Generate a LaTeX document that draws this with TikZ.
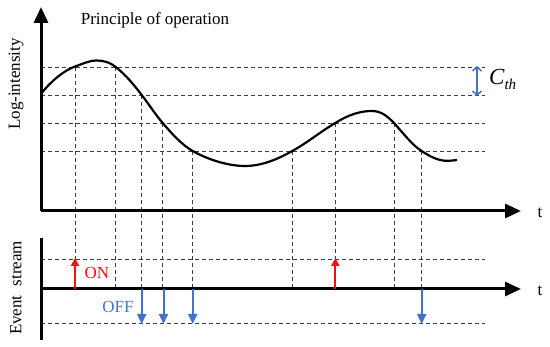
\documentclass[tikz,border=0pt]{standalone}
\usepackage{fontspec}
\setmainfont{Liberation Serif}
\usetikzlibrary{arrows.meta}
\definecolor{onred}{RGB}{235,20,20}
\definecolor{offblue}{RGB}{68,114,196}
\definecolor{guidegray}{RGB}{60,60,60}
\begin{document}
\begin{tikzpicture}[x=1pt,y=-1pt,
  axis/.style={line width=3pt,-{Triangle[length=16pt,width=14pt]}},
  vaxis/.style={line width=3pt},
  guide/.style={line width=0.8pt,dash pattern=on 4pt off 3pt,guidegray},
  curve/.style={line width=2.2pt,line join=round},
  onarrow/.style={onred,line width=2pt,-{Triangle[length=8pt,width=8pt]}},
  offarrow/.style={offblue,line width=2pt,-{Triangle[length=10pt,width=9pt]}},
  lbl/.style={font=\fontsize{17}{20}\selectfont,inner sep=0pt}
]
\useasboundingbox (0,0) rectangle (550,347);

% guide levels (top panel)
\foreach \y in {67,95,123,151} \draw[guide] (41,\y) -- (485,\y);

% guide levels (bottom panel)
\foreach \y in {259,323} \draw[guide] (41,\y) -- (485,\y);

% vertical guides
\draw[guide] (75,67) -- (75,260);
\draw[guide] (115.7,67) -- (115.7,289);
\draw[guide] (141.7,95) -- (141.7,289);
\draw[guide] (162.7,123) -- (162.7,289);
\draw[guide] (192.7,151) -- (192.7,289);
\draw[guide] (292.3,151) -- (292.3,289);
\draw[guide] (335.3,123) -- (335.3,260);
\draw[guide] (394,123) -- (394,289);
\draw[guide] (421.7,151) -- (421.7,289);

% curve
\draw[curve] (41,94)
  .. controls (50,82) and (64,70.35) .. (75,66.5)
  .. controls (85,63) and (90,60.5) .. (96,60.5)
  .. controls (102,60.5) and (108.7,61.5) .. (115.7,67)
  .. controls (126,75) and (134,85) .. (141.7,95)
  .. controls (149.4,105) and (155,114) .. (162.7,123)
  .. controls (172,133.9) and (182,145) .. (192.7,151)
  .. controls (208,159.6) and (228,166) .. (245,166)
  .. controls (262,166) and (278,159) .. (292.3,151)
  .. controls (307,143) and (320,132) .. (335.3,123)
  .. controls (348,115) and (360,111) .. (371.7,111)
  .. controls (382,111) and (388,117) .. (394,123)
  .. controls (404,134) and (412,145) .. (421.7,151)
  .. controls (432,158) and (440,161) .. (448,160.8)
  .. controls (452,160.6) and (455,160.3) .. (457,160);

% axes top
\coordinate (O1) at (41,211);
\coordinate (Y1) at (41,7);
\coordinate (X1) at (521,211);
\draw[axis] (O1) -- (Y1);
\draw[axis] (O1) -- (X1);
\node[lbl] (t1) at (540,213) {t};

% axes bottom
\coordinate (B1) at (41,238);
\coordinate (B2) at (41,340);
\coordinate (O2) at (39.5,289);
\coordinate (X2) at (521,289);
\draw[vaxis] (B1) -- (B2);
\draw[axis] (O2) -- (X2);
\node[lbl] (t2) at (540,291) {t};

% events
\coordinate (on1a) at (75,289); \coordinate (on1b) at (75,258);
\coordinate (on2a) at (335.3,289); \coordinate (on2b) at (335.3,258);
\draw[onarrow] (on1a) -- (on1b);
\draw[onarrow] (on2a) -- (on2b);
\foreach \x in {141.7,163.5,192.7,421.7} \draw[offarrow] (\x,289) -- (\x,324);

\node[lbl,text=onred] (on) at (97,273) {ON};
\node[lbl,text=offblue] (off) at (118,307) {OFF};

% threshold
\coordinate (c1) at (477,66); \coordinate (c2) at (477,96);
\draw[offblue,line width=1.5pt,{Straight Barb[length=4pt,width=9pt]}-{Straight Barb[length=4pt,width=9pt]}] (c1) -- (c2);
\node[inner sep=0pt,anchor=west] (cth) at (489,79) {\fontsize{23}{26}\selectfont\itshape C\raisebox{-5pt}{\fontsize{15}{18}\selectfont th}};

% labels
\node[lbl] (title) at (155,20) {Principle of operation};
\node[lbl,rotate=90] (ylab) at (16,84) {Log-intensity};
\node[lbl,rotate=90] (elab) at (16,288) {Event\hspace{9pt}stream};
\end{tikzpicture}
\end{document}
